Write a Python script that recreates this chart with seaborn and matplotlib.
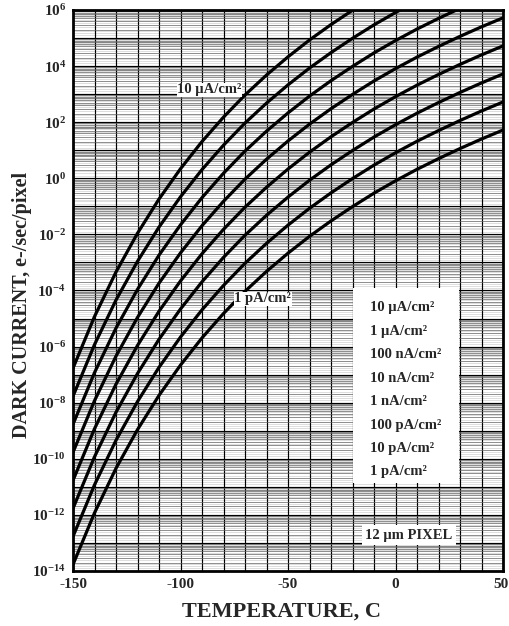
import numpy as np
import pandas as pd
import matplotlib
matplotlib.use("Agg")
import matplotlib.pyplot as plt
import matplotlib.transforms as mtransforms
import seaborn as sns
from matplotlib.ticker import FixedLocator, FuncFormatter, MultipleLocator, LogLocator
from matplotlib.patches import Rectangle

# ---- data (log10 of dark current, e-/sec/pixel) ----
temperature_c = [-150, -140, -130, -120, -110, -100, -90, -80, -70, -60, -50,
                 -40, -30, -20, -10, 0, 10, 20, 30, 40, 50]

log_10uA = [-6.77, -4.93, -3.34, -1.96, -0.74, 0.34, 1.31, 2.18, 2.97, 3.68, 4.33,
            4.93, 5.48, 5.99, 6.47, 6.91, 7.32, 7.70, 8.06, 8.40, 8.72]
log_1uA = [-7.77, -5.93, -4.34, -2.96, -1.74, -0.66, 0.31, 1.18, 1.97, 2.68, 3.33,
           3.93, 4.48, 4.99, 5.47, 5.91, 6.32, 6.70, 7.06, 7.40, 7.72]
log_100nA = [-8.77, -6.93, -5.34, -3.96, -2.74, -1.66, -0.69, 0.18, 0.97, 1.68, 2.33,
             2.93, 3.48, 3.99, 4.47, 4.91, 5.32, 5.70, 6.06, 6.40, 6.72]
log_10nA = [-9.77, -7.93, -6.34, -4.96, -3.74, -2.66, -1.69, -0.82, -0.03, 0.68, 1.33,
            1.93, 2.48, 2.99, 3.47, 3.91, 4.32, 4.70, 5.06, 5.40, 5.72]
log_1nA = [-10.77, -8.93, -7.34, -5.96, -4.74, -3.66, -2.69, -1.82, -1.03, -0.32, 0.33,
           0.93, 1.48, 1.99, 2.47, 2.91, 3.32, 3.70, 4.06, 4.40, 4.72]
log_100pA = [-11.77, -9.93, -8.34, -6.96, -5.74, -4.66, -3.69, -2.82, -2.03, -1.32, -0.67,
             -0.07, 0.48, 0.99, 1.47, 1.91, 2.32, 2.70, 3.06, 3.40, 3.72]
log_10pA = [-12.77, -10.93, -9.34, -7.96, -6.74, -5.66, -4.69, -3.82, -3.03, -2.32, -1.67,
            -1.07, -0.52, -0.01, 0.47, 0.91, 1.32, 1.70, 2.06, 2.40, 2.72]
log_1pA = [-13.77, -11.93, -10.34, -8.96, -7.74, -6.66, -5.69, -4.82, -4.03, -3.32, -2.67,
           -2.07, -1.52, -1.01, -0.53, -0.09, 0.32, 0.70, 1.06, 1.40, 1.72]

series_labels = ["10 µA/cm²", "1 µA/cm²", "100 nA/cm²", "10 nA/cm²",
                 "1 nA/cm²", "100 pA/cm²", "10 pA/cm²", "1 pA/cm²"]
series_logs = [log_10uA, log_1uA, log_100nA, log_10nA,
               log_1nA, log_100pA, log_10pA, log_1pA]

y_tick_exponents = list(range(-14, 7))
x_tick_labels = [-150, -100, -50, 0, 50]

# ---- style ----
sns.set_style("white")
plt.rcParams["font.family"] = ["Liberation Serif", "DejaVu Serif"]
plt.rcParams["font.weight"] = "bold"
plt.rcParams["mathtext.fontset"] = "custom"
plt.rcParams["mathtext.rm"] = "Liberation Serif:bold"
plt.rcParams["mathtext.bf"] = "Liberation Serif:bold"
plt.rcParams["mathtext.it"] = "Liberation Serif:bold"

rows = []
for lab, arr in zip(series_labels, series_logs):
    for t, v in zip(temperature_c, arr):
        rows.append({"T": t, "D": 10.0 ** v, "series": lab})
df = pd.DataFrame(rows)

fig = plt.figure(figsize=(5.09, 6.26), dpi=100)
ax = fig.add_axes([73 / 509, 55 / 626, 430 / 509, 561 / 626])
ax.set_yscale("log")

# grid (log paper look)
ax.set_xlim(-150, 50)
ax.set_ylim(1e-14, 1e6)
for e in range(-14, 6):
    for s in [1.25, 1.5, 1.75, 2.5, 3.5, 4.5, 5.5, 6.5, 7.5, 8.5, 9.5]:
        ax.axhline(s * 10.0 ** e, color="#c4c4c4", lw=0.4, zorder=0.5)

ax.yaxis.set_major_locator(FixedLocator([10.0 ** e for e in y_tick_exponents]))
ax.yaxis.set_major_formatter(FuncFormatter(
    lambda v, p: (r"$10^{%d}$" % round(np.log10(v))) if round(np.log10(v)) % 2 == 0 else ""))
ax.yaxis.set_minor_locator(LogLocator(base=10, subs=np.arange(2, 10), numticks=200))
ax.xaxis.set_major_locator(MultipleLocator(10))
ax.xaxis.set_major_formatter(FuncFormatter(
    lambda v, p: "%d" % v if int(round(v)) in x_tick_labels else ""))

ax.grid(which="major", axis="both", color="black", lw=0.85, zorder=1)
ax.grid(which="minor", axis="y", color="#606060", lw=0.5, zorder=1)
ax.set_axisbelow(True)

sns.lineplot(data=df, x="T", y="D", hue="series", palette=["black"] * 8,
             linewidth=2.3, legend=False, ax=ax, estimator=None, zorder=5)
ax.set_xlim(-150, 50)
ax.set_ylim(1e-14, 1e6)
ax.set_xlabel("")
ax.set_ylabel("")

ax.tick_params(axis="both", which="both", length=0, labelsize=11, pad=5)
for lab in ax.get_xticklabels():
    lab.set_fontweight("bold")
for sp in ax.spines.values():
    sp.set_linewidth(2.0)
    sp.set_color("black")

# in-plot labels
ax.text(-101.5, 10 ** 3.15, "10 µA/cm²", fontsize=10.5, fontweight="bold",
        va="center", ha="left", zorder=6,
        bbox=dict(facecolor="white", edgecolor="none", pad=0.5))
ax.text(-75, 10 ** -4.3, "1 pA/cm²", fontsize=10.5, fontweight="bold",
        va="center", ha="left", zorder=6,
        bbox=dict(facecolor="white", edgecolor="none", pad=0.5))

# legend box
ax.add_patch(Rectangle((0.651, 0.157), 0.247, 0.348, transform=ax.transAxes,
                       facecolor="white", edgecolor="none", zorder=4))
y0 = 1 - (308 - 10) / 561
dy = 23.4 / 561
for i, lab in enumerate(series_labels):
    ax.text(0.69, y0 - i * dy, lab, transform=ax.transAxes, fontsize=10.5,
            fontweight="bold", ha="left", va="center", zorder=6)

ax.text((409 - 73) / 430, (571 - 535) / 561, "12 µm PIXEL", transform=ax.transAxes,
        fontsize=10.5, fontweight="bold", ha="center", va="center", zorder=6,
        bbox=dict(facecolor="white", edgecolor="none", pad=2.5))

fig.text(22.5 / 509, 1 - 305 / 626, "DARK CURRENT, e-/sec/pixel", rotation=90,
         ha="center", va="center", fontsize=14.5, fontweight="bold")
fig.text(282 / 509, 1 - 612 / 626, "TEMPERATURE, C", ha="center", va="center",
         fontsize=16, fontweight="bold")

# keep the right-most "50" tick label inside the figure
fig.canvas.draw()
last_label = ax.xaxis.get_major_ticks()[-1].label1
for tk in ax.xaxis.get_major_ticks():
    if tk.label1.get_text() == "50":
        last_label = tk.label1
last_label.set_horizontalalignment("right")
last_label.set_transform(last_label.get_transform() +
                         mtransforms.ScaledTranslation(6 / 100, 0, fig.dpi_scale_trans))

fig.savefig("out.png", dpi=100, facecolor="white")
